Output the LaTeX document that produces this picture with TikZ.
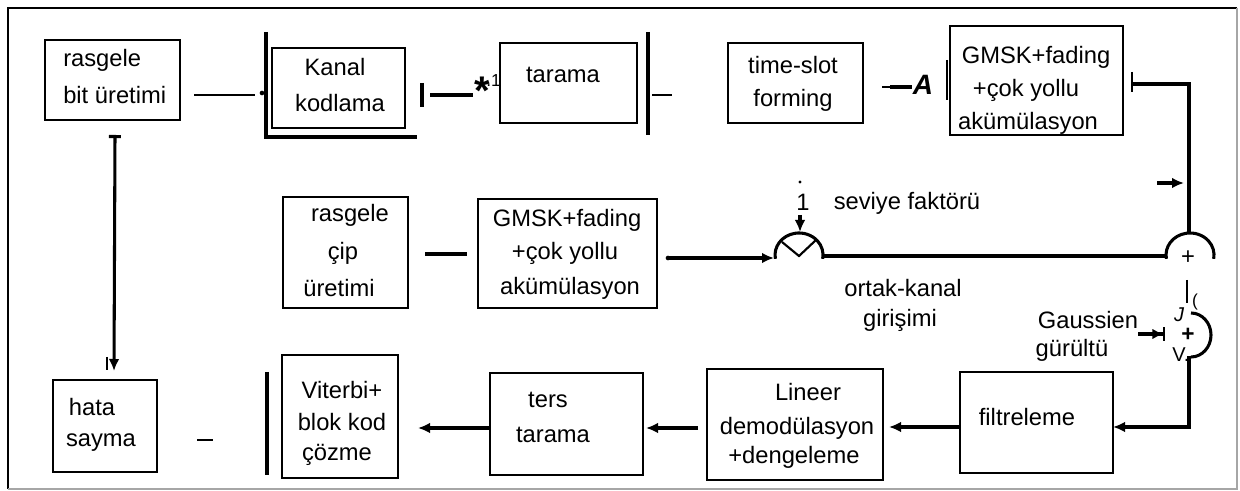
\documentclass[tikz,border=0pt]{standalone}
\usepackage{fontspec}
\setmainfont{Liberation Sans}
\usetikzlibrary{arrows.meta}
\begin{document}
\begin{tikzpicture}[x=0.75pt,y=-0.75pt,
  box/.style={draw, line width=1.6pt, inner sep=0pt},
  thinbox/.style={draw, line width=1pt, inner sep=0pt},
  sz/.style 2 args={minimum width={#1*0.75pt}, minimum height={#2*0.75pt}},
  txt/.style={inner sep=0pt, font=\fontsize{17.8}{21}\selectfont},
  wire/.style={line width=2.3pt},
  thinwire/.style={line width=1.1pt},
  arr/.style={wire,-{Latex[length=9pt,width=8pt]}},
  dotc/.style={fill, circle, inner sep=0pt, minimum size=3.5pt}
]
\useasboundingbox (0,0) rectangle (1240,491);
% frame
\draw[line width=1.6pt] (8,489) -- (8,8) -- (1237,8);
\draw[line width=1pt, black!35] (1237,8) -- (1237,489) -- (8,489);

% ---------------- boxes ----------------
\node[box, sz={135}{80}]  (b1)   at (112.5,80)   {};
\node[box, sz={133}{80}]  (kk)   at (338.5,88)   {};
\node[box, sz={137}{80}]  (tar)  at (568.5,83)   {};
\node[box, sz={135}{80}]  (ts)   at (795.5,83)   {};
\node[thinbox, sz={173}{109}] (g1) at (1036.5,80.5) {};
\node[box, sz={125}{111}] (cip)  at (345.5,252.5) {};
\node[box, sz={179}{109}] (g2)   at (567.5,253.5) {};
\node[box, sz={104}{92}]  (hata) at (105,426)     {};
\node[box, sz={116}{123}] (vit)  at (340,416.5)   {};
\node[box, sz={153}{102}] (ters) at (566.5,424)   {};
\node[box, sz={176}{111}] (lin)  at (795,424.5)   {};
\node[box, sz={153}{101}] (fil)  at (1036.5,422.5) {};

% ---------------- texts ----------------
\node[txt, anchor=west] (t1a) at (63,60) {rasgele};
\node[txt, anchor=west] (t1b) at (63,95) {bit üretimi};
\node[txt] (t2a) at (335,67) {Kanal};
\node[txt] (t2b) at (340,103) {kodlama};
\node[txt] (t3) at (563,75) {tarama};
\node[txt] (t4a) at (793,65) {time-slot};
\node[txt] (t4b) at (793,100) {forming};
\node[txt] (t5a) at (1036,57) {GMSK+fading};
\node[txt] (t5b) at (1026,90) {+çok yollu};
\node[txt] (t5c) at (1028,123) {akümülasyon};
\node[txt] (t6a) at (350,215) {rasgele};
\node[txt] (t6b) at (343,253) {çip};
\node[txt] (t6c) at (339,288) {üretimi};
\node[txt] (t7a) at (567,220) {GMSK+fading};
\node[txt] (t7b) at (565,253) {+çok yollu};
\node[txt] (t7c) at (570,288) {akümülasyon};
\node[txt] (t8) at (803,202) {1};
\node[txt] (t9) at (907,203) {seviye faktörü};
\node[txt] (t10a) at (903,288) {ortak-kanal};
\node[txt] (t10b) at (900,320) {girişimi};
\node[txt] (t11a) at (1088,320) {Gaussien};
\node[txt] (t11b) at (1072,350) {gürültü};
\node[txt] (t12a) at (92,407) {hata};
\node[txt] (t12b) at (101,443) {sayma};
\node[txt] (t13a) at (342,390) {Viterbi+};
\node[txt] (t13b) at (342,422) {blok kod};
\node[txt] (t13c) at (337,455) {çözme};
\node[txt] (t14a) at (548,400) {ters};
\node[txt] (t14b) at (553,435) {tarama};
\node[txt] (t15a) at (808,392) {Lineer};
\node[txt] (t15b) at (797,428) {demodülasyon};
\node[txt] (t15c) at (794,457) {+dengeleme};
\node[txt] (t16) at (1027,417) {filtreleme};
% scan marks printed in the picture
\node[inner sep=0pt, font=\bfseries\fontsize{30}{30}\selectfont, anchor=base] (ast) at (482,105) {*};
\node[inner sep=0pt, font=\fontsize{13}{13}\selectfont, anchor=east] (one) at (501,81) {.1};
\node[inner sep=0pt, font=\bfseries\itshape\fontsize{21}{21}\selectfont] (A) at (923,85) {A};
\node[txt] (p1) at (1188,258) {+};
\node[inner sep=0pt, font=\fontsize{13}{13}\selectfont] (par) at (1195,302) {(};
\node[inner sep=0pt, font=\itshape\fontsize{15}{15}\selectfont] (J) at (1179,315) {J};
\node[inner sep=0pt, font=\bfseries\fontsize{17}{17}\selectfont] (p2) at (1188,335) {+};
\node[inner sep=0pt, font=\fontsize{15}{15}\selectfont] (V) at (1181,355) {V.};

% ---------------- top row connectors ----------------
\coordinate (c1a) at (194,95);
\coordinate (c1b) at (255,95);
\draw[thinwire] (c1a) -- (c1b);
\node[dotc] (d1) at (262,93) {};
\draw[line width=2.3pt] (266,32) -- (266,137) -- (417,137);
\draw[line width=3pt] (422,83) -- (422,107);
\draw[wire] (430,95) -- (473,95);
\draw[wire] (648,32) -- (648,135);
\draw[thinwire] (652,95) -- (672,95);
\draw[thinwire] (882,87) -- (890,87);
\draw[wire] (890,87) -- (912,87);
\draw[line width=1pt] (947,60) -- (947,100);
\draw[line width=1.4pt] (1132,72) -- (1132,92);
\coordinate (s1top) at (1189,233);
\draw[wire] (1132,84) -- (1189,84) -- (s1top);
\coordinate (sa) at (1157,183);
\coordinate (sb) at (1184,183);
\draw[arr] (sa) -- (sb);

% summing node 1
\coordinate (s1) at (1190,255);
\draw[wire] (1166.4,258.8) arc[start angle=170,end angle=370,x radius=24,y radius=22];

% multiplier
\coordinate (m) at (799,255);
\draw[wire] (775.4,258.8) arc[start angle=170,end angle=370,x radius=24,y radius=22];
\draw[line width=1.6pt] (782,242) -- (799,256) -- (816,240);
\node[dotc] (d2) at (668,258) {};
\coordinate (min) at (774,258);
\draw[arr] (d2.center) -- (min);
\node[dotc, minimum size=2.5pt] (d3) at (800,182) {};
\coordinate (mtop) at (800,232);
\draw[arr] (800,215) -- (mtop);
\draw[wire] (822.6,256) -- (1166.4,256);

% middle line
\draw[wire] (425,254) -- (467,254);

% summing node 2 (noise)
\draw[line width=1.2pt] (1187,280) -- (1187,303);
\draw[wire] (1191,313) arc[start angle=-90,end angle=90,x radius=20,y radius=22];
\coordinate (ga) at (1138,334);
\coordinate (gb) at (1165,334);
\draw[wire,-{Latex[length=8pt,width=8pt]Bar[width=10pt,line width=1.4pt]}] (ga) -- (gb);
\coordinate (s2out) at (1189,356);
\coordinate (fin) at (1113,427);
\draw[arr] (s2out) |- (fin);

% ---------------- bottom row connectors ----------------
\coordinate (fo) at (960,427);
\coordinate (li) at (889,427);
\draw[arr] (fo) -- (li);
\coordinate (lo) at (698,428);
\coordinate (ti) at (646,428);
\draw[arr] (lo) -- (ti);
\coordinate (to) at (490,428);
\coordinate (vi) at (418,428);
\draw[arr] (to) -- (vi);
\draw[line width=2.5pt] (267,372) -- (267,475);
\draw[line width=1pt] (197,440) -- (213,440);

% left vertical to hata
\coordinate (ha) at (115,135);
\coordinate (hb) at (114,371);
\draw[wire, {Bar[width=9pt]}-{Latex[length=9pt,width=8pt]}] (ha) -- (hb);
\draw[line width=1.2pt] (107,357) -- (107,370);
\end{tikzpicture}
\end{document}
